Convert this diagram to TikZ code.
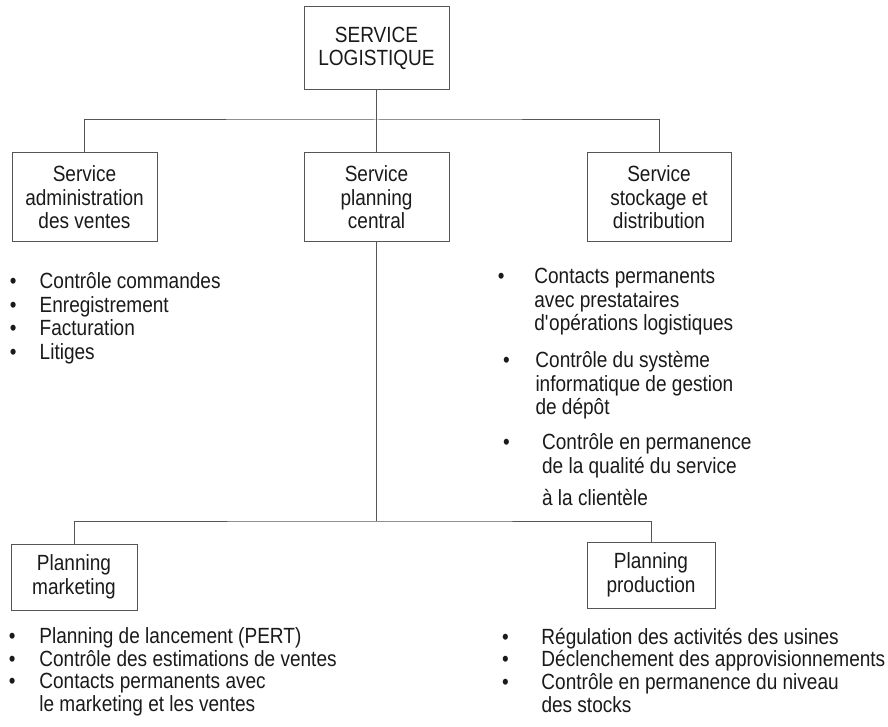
\documentclass[tikz,border=0pt]{standalone}
\usepackage{fontspec}
\setmainfont{Liberation Sans}[FakeStretch=0.865]
\usepackage{array}
\definecolor{Ink}{HTML}{1A1A1A}
\definecolor{Trait}{HTML}{555555}

\begin{document}
\begin{tikzpicture}[x=0.5pt, y=-0.5pt,
    every node/.style={font=\fontsize{11}{11.8}\selectfont, text=Ink},
    boite/.style={draw=Trait, line width=0.5pt, align=center, inner sep=0pt},
    liste/.style={anchor=north west, inner sep=0pt},
    lien/.style={draw=Trait, line width=0.5pt}]
  \useasboundingbox (0,0) rectangle (888,727);
  % boxes
  \node[boite, minimum width=72.5pt, minimum height=41.5pt] (log) at (376.5,48.5) {SERVICE\\LOGISTIQUE};
  \node[boite, minimum width=72.5pt, minimum height=44.5pt] (adm) at (84.5,197.5) {Service\\administration\\des ventes};
  \node[boite, minimum width=72.5pt, minimum height=44.5pt] (central) at (376.5,197.5) {Service\\planning\\central};
  \node[boite, minimum width=72pt, minimum height=44.5pt] (stock) at (659,197.5) {Service\\stockage et\\distribution};
  \node[boite, minimum width=63pt, minimum height=33pt] (mkt) at (74,577) {Planning\\marketing};
  \node[boite, minimum width=64pt, minimum height=33pt] (prod) at (651,575) {Planning\\production};
  % links
  \coordinate (bus1) at (376.5,120);
  \coordinate (bus2) at (376.5,521);
  \draw[lien] (log) -- (central);
  \draw[lien] (adm.north) |- (bus1) -| (stock.north);
  \draw[lien] (central.south) -- (bus2);
  \draw[lien] (mkt.north) |- (bus2) -| (prod.north);
  % lists
  \node[liste] (admliste) at (9.4,271.5) {\begin{tabular}{@{}p{14.95pt}@{}l@{}}
    \textbullet & Contrôle commandes\\
    \textbullet & Enregistrement\\
    \textbullet & Facturation\\
    \textbullet & Litiges
  \end{tabular}};
  \node[liste] (stockun) at (497.4,266.5) {\begin{tabular}{@{}p{18.3pt}@{}l@{}}
    \textbullet & Contacts permanents\\
    & avec prestataires\\
    & d\textquotesingle opérations logistiques
  \end{tabular}};
  \node[liste] (stockdeux) at (502.7,350.5) {\begin{tabular}{@{}p{16.2pt}@{}l@{}}
    \textbullet & Contrôle du système\\
    & informatique de gestion\\
    & de dépôt
  \end{tabular}};
  \node[liste] (stocktrois) at (502.7,432.5) {\begin{tabular}{@{}p{19.5pt}@{}l@{}}
    \textbullet & Contrôle en permanence\\
    & de la qualité du service\\[4.5pt]
    & à la clientèle
  \end{tabular}};
  \node[liste] (mktliste) at (8.4,627.4) {\renewcommand{\arraystretch}{0.945}%
  \begin{tabular}{@{}p{15.3pt}@{}l@{}}
    \textbullet & Planning de lancement (PERT)\\
    \textbullet & Contrôle des estimations de ventes\\
    \textbullet & Contacts permanents avec\\
    & le marketing et les ventes
  \end{tabular}};
  \node[liste] (prodliste) at (501.7,627.4) {\renewcommand{\arraystretch}{0.945}%
  \begin{tabular}{@{}p{19.7pt}@{}l@{}}
    \textbullet & Régulation des activités des usines\\
    \textbullet & Déclenchement des approvisionnements\\
    \textbullet & Contrôle en permanence du niveau\\
    & des stocks
  \end{tabular}};
\end{tikzpicture}
\end{document}
